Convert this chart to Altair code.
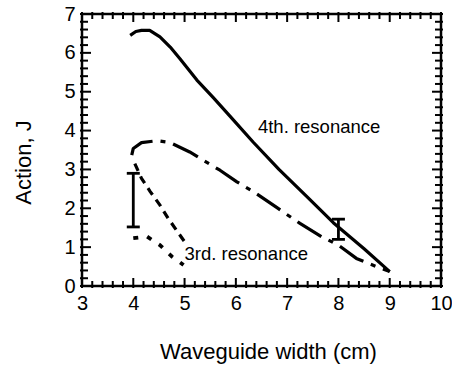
import altair as alt
import pandas as pd

# ---- data ----
# 4th resonance, upper curve (solid)
sol_x = [3.94, 4.05, 4.16, 4.32, 4.52, 4.72, 4.91, 5.24, 5.56, 5.88, 6.34, 6.84, 7.4, 7.9, 8.5, 9.0]
sol_y = [6.45, 6.55, 6.58, 6.58, 6.41, 6.15, 5.85, 5.3, 4.85, 4.38, 3.70, 3.0, 2.28, 1.63, 0.96, 0.37]
# 4th resonance, lower curve (dash-dot)
dd_x = [3.97, 4.0, 4.16, 4.46, 4.72, 5.1, 5.36, 5.69, 6.02, 6.35, 6.73, 7.25, 7.67, 8.0, 8.35, 8.74, 9.0]
dd_y = [3.37, 3.54, 3.69, 3.74, 3.69, 3.45, 3.24, 2.98, 2.68, 2.42, 2.08, 1.61, 1.27, 1.05, 0.71, 0.5, 0.37]
# 3rd resonance, upper curve (dashed)
d3_x = [4.03, 4.16, 4.33, 4.52, 4.68, 4.84, 5.0]
d3_y = [3.15, 2.77, 2.43, 2.08, 1.74, 1.44, 1.14]
# 3rd resonance, lower curve (dotted)
p3_x = [4.0, 4.27, 4.52, 4.75, 4.98]
p3_y = [1.23, 1.27, 1.05, 0.76, 0.54]
# error bars
err_x = [4.0, 8.0]
err_lo = [1.52, 1.2]
err_hi = [2.9, 1.72]
# annotations
ann_text = ["4th. resonance", "3rd. resonance"]
ann_x = [6.43, 5.0]
ann_y = [3.93, 0.67]
# axis ticks
x_major = [3, 4, 5, 6, 7, 8, 9, 10]
y_major = [0, 1, 2, 3, 4, 5, 6, 7]
x_minor = [round(3 + 0.2 * i, 1) for i in range(36) if i % 5 != 0]
y_minor = [round(0.2 * i, 1) for i in range(36) if i % 5 != 0]

W, H = 359, 272
FONT = "Liberation Sans"
xs = alt.Scale(domain=[3, 10], nice=False, zero=False)
ys = alt.Scale(domain=[0, 7], nice=False, zero=False)

lines = pd.DataFrame(
    {"x": sol_x + dd_x + d3_x + p3_x,
     "y": sol_y + dd_y + d3_y + p3_y,
     "s": ["a"] * len(sol_x) + ["b"] * len(dd_x) + ["c"] * len(d3_x) + ["d"] * len(p3_x),
     "o": list(range(len(sol_x))) + list(range(len(dd_x))) + list(range(len(d3_x))) + list(range(len(p3_x)))}
)

xaxis = alt.Axis(values=x_major, ticks=False, tickSize=0, domain=False, grid=False,
                 labelFontSize=20, labelFont=FONT, labelColor="black", labelPadding=7,
                 labelFlush=False, labelAngle=0,
                 title="Waveguide width (cm)", titleFontSize=22, titleFont=FONT,
                 titleFontWeight="normal", titleColor="black",
                 titleX=186, titleY=72, titleAlign="center", titleBaseline="alphabetic")
yaxis = alt.Axis(values=y_major, ticks=False, tickSize=0, domain=False, grid=False,
                 labelFontSize=20, labelFont=FONT, labelColor="black", labelPadding=7,
                 labelFlush=False,
                 title="Action, J", titleFontSize=22, titleFont=FONT,
                 titleFontWeight="normal", titleColor="black", titleAngle=270,
                 titleX=-52, titleY=148, titleAlign="center", titleBaseline="alphabetic")

def X(f):
    return alt.X(f, scale=xs, axis=xaxis)

def Y(f):
    return alt.Y(f, scale=ys, axis=yaxis)

def series(key, dash, width=3.2):
    kw = dict(color="black", strokeWidth=width, strokeCap="butt", strokeJoin="round")
    if dash:
        kw["strokeDash"] = dash
    return alt.Chart(lines).transform_filter(alt.datum.s == key).mark_line(**kw).encode(
        x=X("x:Q"), y=Y("y:Q"), order="o:Q",
    )

l_sol = series("a", None)
l_dd = series("b", [28, 8, 5, 8])
l_d3 = series("c", [8, 6])
l_p3 = series("d", [5, 9], 3.8)

err = pd.DataFrame({"x": err_x, "lo": err_lo, "hi": err_hi})
e_rule = alt.Chart(err).mark_rule(color="black", strokeWidth=2.8).encode(
    x=X("x:Q"), y=Y("lo:Q"), y2="hi:Q")
caps = pd.DataFrame({"x": err_x + err_x, "y": err_lo + err_hi})
e_caps = alt.Chart(caps).mark_tick(orient="horizontal", color="black", size=13, thickness=2.8,
                                   opacity=1).encode(
    x=X("x:Q"), y=Y("y:Q"))

ann = pd.DataFrame({"t": ann_text, "x": ann_x, "y": ann_y})
t_ann = alt.Chart(ann).mark_text(align="left", baseline="alphabetic", fontSize=18.5,
                                 font=FONT, color="black").encode(
    x=X("x:Q"), y=Y("y:Q"), text="t:N")

def xticks(vals, length):
    d = pd.DataFrame({"v": vals})
    bot = alt.Chart(d).mark_rule(color="black", strokeWidth=2).encode(
        x=X("v:Q"), y=alt.value(H + 2), y2=alt.value(H - length))
    top = alt.Chart(d).mark_rule(color="black", strokeWidth=2).encode(
        x=X("v:Q"), y=alt.value(-2), y2=alt.value(length))
    return [bot, top]

def yticks(vals, length):
    d = pd.DataFrame({"v": vals})
    left = alt.Chart(d).mark_rule(color="black", strokeWidth=2).encode(
        y=Y("v:Q"), x=alt.value(-2), x2=alt.value(length))
    right = alt.Chart(d).mark_rule(color="black", strokeWidth=2).encode(
        y=Y("v:Q"), x=alt.value(W + 2), x2=alt.value(W - length))
    return [left, right]

tick_layers = xticks(x_major, 8) + xticks(x_minor, 5) + yticks(y_major, 9) + yticks(y_minor, 6)

frame = alt.Chart(pd.DataFrame({"k": [0]})).mark_rect(
    filled=False, stroke="black", strokeWidth=2.5, fillOpacity=0
).encode(x=alt.value(0), x2=alt.value(W), y=alt.value(0), y2=alt.value(H))

chart = alt.layer(
    frame, l_sol, l_dd, l_d3, l_p3, e_rule, e_caps, t_ann, *tick_layers
).properties(
    width=W, height=H,
    padding={"left": 82, "top": 14, "right": 11, "bottom": 79},
    autosize=alt.AutoSizeParams(type="none"),
).configure_view(strokeWidth=0).configure(background="white")

chart.save("out.html", embed_options={"renderer": "svg", "actions": False})
